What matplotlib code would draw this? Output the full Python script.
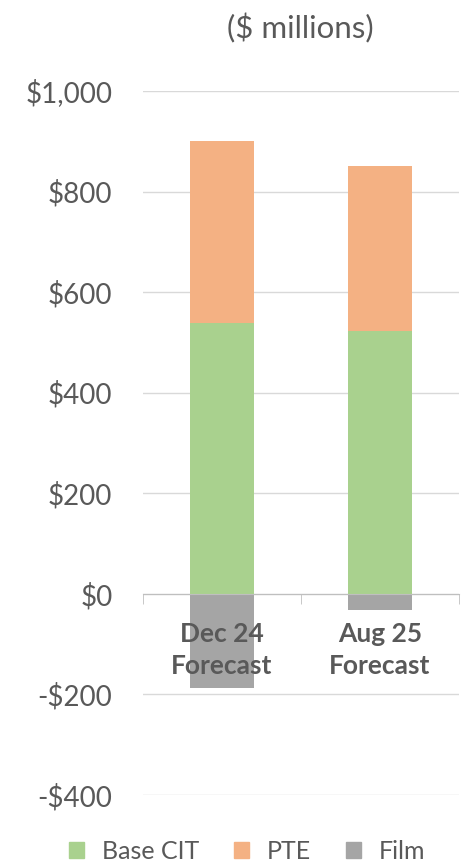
import matplotlib.pyplot as plt
from matplotlib.patches import Patch

plt.rcParams['font.family'] = ['Lato', 'DejaVu Sans']

categorias = ["Dec 24\nForecast", "Aug 25\nForecast"]
base_cit = [539, 523]
pte = [361, 328]
film = [-187, -32]
yticks = [-400, -200, 0, 200, 400, 600, 800, 1000]

verde = "#A9D18E"
laranja = "#F4B183"
cinza = "#A5A5A5"
texto = "#595959"

fig = plt.figure(figsize=(4.62, 8.65), dpi=100)
ax = fig.add_axes([0.3095, 0.0809, 0.684, 0.8139])

x = range(len(categorias))
ax.bar(x, base_cit, width=0.4, color=verde, zorder=2)
ax.bar(x, pte, width=0.4, bottom=base_cit, color=laranja, zorder=2)
ax.bar(x, film, width=0.4, color=cinza, zorder=2)

ax.set_xlim(-0.5, 1.5)
ax.set_ylim(-400, 1000)
ax.set_yticks(yticks)
ax.set_yticklabels([("-$" if v < 0 else "$") + "{:,}".format(abs(v)) for v in yticks],
                   fontsize=20, color=texto)
ax.grid(axis='y', color="#D9D9D9", lw=1)
ax.tick_params(axis='y', length=0, pad=22)

for s in ['top', 'right', 'left']:
    ax.spines[s].set_visible(False)
ax.spines['bottom'].set_position(('data', 0))
ax.spines['bottom'].set_color("#BFBFBF")
ax.spines['bottom'].set_zorder(3)
ax.xaxis.set_zorder(3)

ax.set_xticks(list(x))
ax.set_xticklabels(categorias, fontsize=19, fontweight='bold', color=texto, linespacing=1.4)
ax.set_xticks([-0.5, 0.5, 1.5], minor=True)
ax.tick_params(axis='x', which='major', length=0, pad=20)
ax.tick_params(axis='x', which='minor', length=7, color="#BFBFBF", direction='out')

fig.text(0.65, 0.967, "($ millions)", ha='center', va='center', fontsize=22.5, color=texto)

handles = [Patch(color=verde, label="Base CIT"), Patch(color=laranja, label="PTE"), Patch(color=cinza, label="Film")]
fig.legend(handles=handles, loc='center', bbox_to_anchor=(0.535, 0.016), ncol=3, frameon=False,
           fontsize=18, labelcolor=texto, handlelength=0.6, handleheight=0.6, handletextpad=0.7, columnspacing=1.4)

fig.savefig("out.png", dpi=100)
